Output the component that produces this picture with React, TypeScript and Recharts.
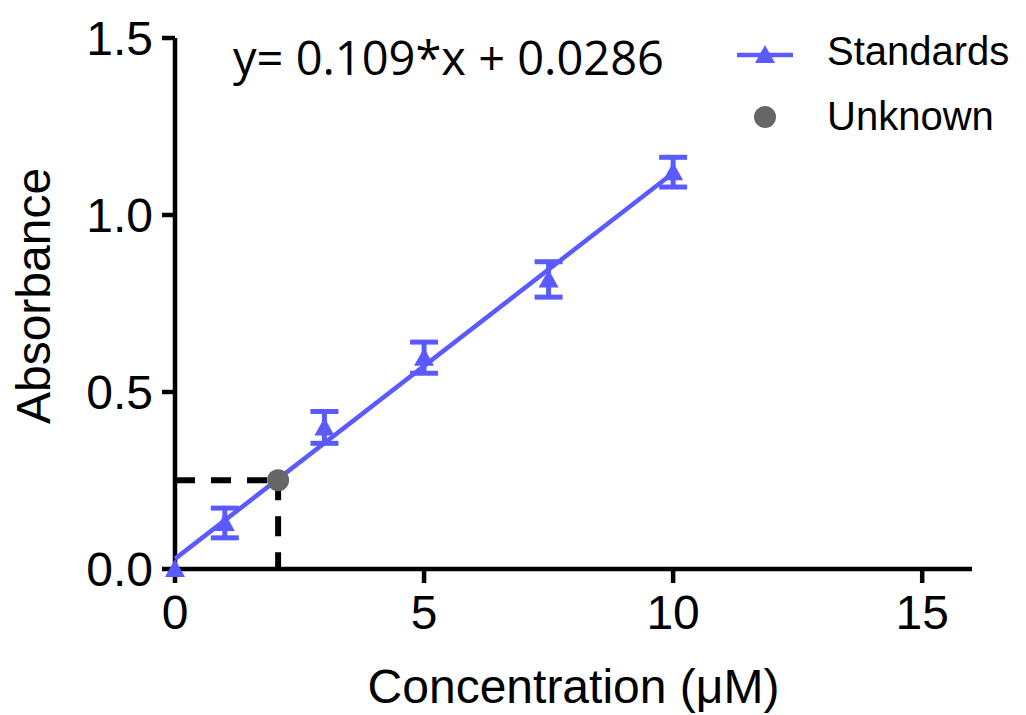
import React from 'react';
import { ComposedChart, Scatter, XAxis, YAxis, ErrorBar, ReferenceLine } from 'recharts';

// standard curve
const concentrations = [0, 1, 3, 5, 7.5, 10];
const absorbances = [0.0, 0.13, 0.40, 0.597, 0.818, 1.121];
const sdValues = [0.0, 0.042, 0.045, 0.044, 0.05, 0.042];

// unknown sample
const unknownX = [2.07];
const unknownY = [0.251];

// fitted line end points (y = 0.109*x + 0.0286)
const fitX = [0, 10];
const fitY = [0.0286, 1.1186];

const xTicks = [0, 5, 10, 15];
const yTicks = [0, 0.5, 1.0, 1.5];

const BLUE = '#5a5aff';
const GREY = '#666666';
const FONT = '"Liberation Sans", Arial, sans-serif';

const standards = concentrations.map((x, i) => ({ x, y: absorbances[i], err: sdValues[i] }));
const unknown = unknownX.map((x, i) => ({ x, y: unknownY[i] }));
const fitLine = fitX.map((x, i) => ({ x, y: fitY[i] }));

const Triangle = (props: any) => {
  const { cx, cy } = props;
  if (cx == null || cy == null) return null;
  return <polygon points={`${cx},${cy - 10} ${cx - 10},${cy + 8} ${cx + 10},${cy + 8}`} fill={BLUE} />;
};

const Dot = (props: any) => {
  const { cx, cy } = props;
  if (cx == null || cy == null) return null;
  return <circle cx={cx} cy={cy} r={11} fill={GREY} />;
};

const NoShape = () => null;

const XTitle = (props: any) => {
  const { viewBox } = props;
  return (
    <text x={viewBox.x + viewBox.width / 2} y={703} textAnchor="middle" fontFamily={FONT} fontSize={48} fill="#000">
      Concentration (μM)
    </text>
  );
};

const YTitle = () => (
  <text x={50} y={296} transform="rotate(-90, 50, 296)" textAnchor="middle" fontFamily={FONT} fontSize={48} fill="#000">
    Absorbance
  </text>
);

const App: React.FC = () => {
  return (
    <div style={{ position: 'absolute', left: 0, top: 0, width: 1026, height: 715, background: '#fff' }}>
      <ComposedChart width={1026} height={715} margin={{ top: 38, right: 54, left: 0, bottom: 0 }}>
        <XAxis
          type="number"
          dataKey="x"
          domain={[0, 16]}
          ticks={xTicks}
          height={146}
          tickSize={14}
          tickMargin={12}
          axisLine={{ stroke: '#000', strokeWidth: 4.5 }}
          tickLine={{ stroke: '#000', strokeWidth: 4.5 }}
          tick={{ fill: '#000', fontSize: 48, fontFamily: FONT }}
          label={<XTitle />}
        />
        <YAxis
          type="number"
          dataKey="y"
          domain={[0, 1.5]}
          ticks={yTicks}
          width={175}
          tickSize={13}
          tickMargin={9}
          tickFormatter={(v: number) => v.toFixed(1)}
          axisLine={{ stroke: '#000', strokeWidth: 4.5 }}
          tickLine={{ stroke: '#000', strokeWidth: 4.5 }}
          tick={{ fill: '#000', fontSize: 48, fontFamily: FONT }}
          label={<YTitle />}
        />

        {/* read-off guides for the unknown */}
        <ReferenceLine
          segment={[{ x: 0, y: unknownY[0] }, { x: unknownX[0], y: unknownY[0] }]}
          stroke="#000"
          strokeWidth={6}
          strokeDasharray="20 16"
        />
        <ReferenceLine
          segment={[{ x: unknownX[0], y: unknownY[0] }, { x: unknownX[0], y: 0 }]}
          stroke="#000"
          strokeWidth={6}
          strokeDasharray="20 16"
        />

        <Scatter
          name="fit"
          data={fitLine}
          line={{ stroke: BLUE, strokeWidth: 4.5 }}
          shape={NoShape}
          legendType="none"
          isAnimationActive={false}
        />
        <Scatter name="Standards" data={standards} fill={BLUE} shape={Triangle} isAnimationActive={false}>
          <ErrorBar dataKey="err" direction="y" width={14} stroke={BLUE} strokeWidth={5} isAnimationActive={false} />
        </Scatter>
        <Scatter name="Unknown" data={unknown} fill={GREY} shape={Dot} isAnimationActive={false} />
      </ComposedChart>

      {/* equation and legend */}
      <svg width={1026} height={150} style={{ position: 'absolute', left: 0, top: 0, pointerEvents: 'none' }}>
        <text x={233} y={75} fontFamily='"Open Sans", sans-serif' fontSize={47} fill="#000">
          y= 0.109*x + 0.0286
        </text>
        <line x1={737} y1={55} x2={793} y2={55} stroke={BLUE} strokeWidth={4.5} />
        <polygon points="765,45 755,63 775,63" fill={BLUE} />
        <text x={827} y={65} fontFamily={FONT} fontSize={40} fill="#000">Standards</text>
        <circle cx={765} cy={117} r={11} fill={GREY} />
        <text x={827} y={130} fontFamily={FONT} fontSize={40} fill="#000">Unknown</text>
      </svg>
    </div>
  );
};

export default App;
